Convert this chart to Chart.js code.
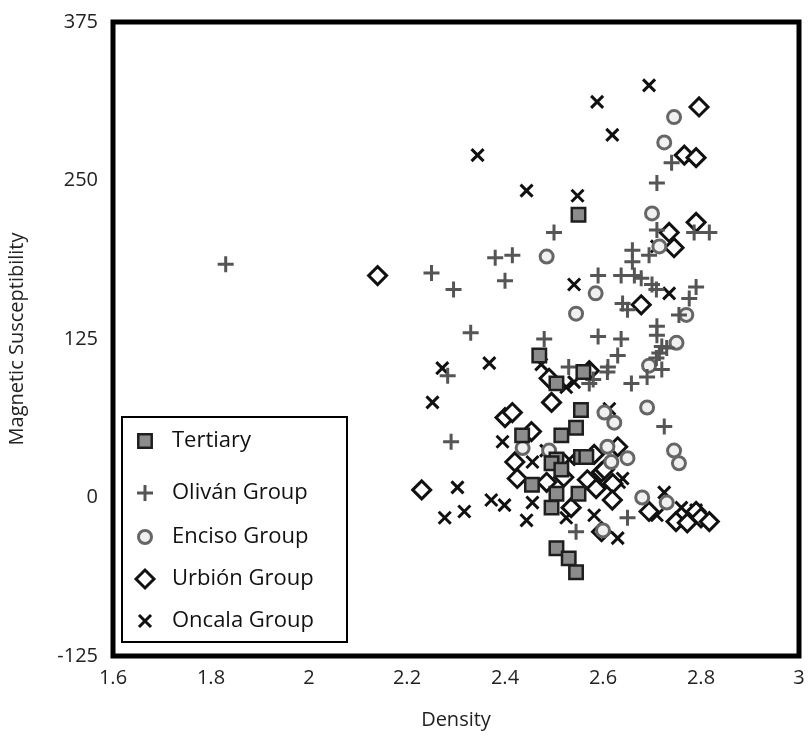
<!DOCTYPE html>
<html>
<head>
<meta charset="utf-8">
<script src="https://cdn.jsdelivr.net/npm/chart.js@4/dist/chart.umd.min.js"></script>
<style>
  html, body { margin: 0; padding: 0; background: #fff; }
  #wrap { width: 811px; height: 737px; }
</style>
</head>
<body>
<div id="wrap"><canvas id="chart" width="811" height="737"></canvas></div>
<script>
// tick labels of the two axes
const densityTicks = [1.6, 1.8, 2, 2.2, 2.4, 2.6, 2.8, 3];
const susTicks = [-125, 0, 125, 250, 375];

// series names (legend order)
const groupNames = ['Tertiary', 'Oliván Group', 'Enciso Group', 'Urbión Group', 'Oncala Group'];

// Tertiary
const tertiaryDensity = [2.55, 2.47, 2.56, 2.505, 2.555, 2.545, 2.515, 2.435, 2.555, 2.566, 2.505, 2.495, 2.515, 2.455, 2.505, 2.55, 2.495, 2.505, 2.53, 2.545];
const tertiarySus = [223, 112, 99, 90, 69, 55, 49, 49, 32, 32, 30, 27, 22, 10, 3, 3, -8, -40, -48, -59];

// Oliván Group
const olivanDensity = [1.83, 2.25, 2.295, 2.33, 2.283, 2.29, 2.38, 2.415, 2.40, 2.50, 2.48, 2.53, 2.59, 2.59, 2.637, 2.637, 2.64, 2.63, 2.61, 2.58,
  2.74, 2.71, 2.71, 2.786, 2.817, 2.66, 2.66, 2.694, 2.664, 2.678, 2.70, 2.709, 2.79, 2.776, 2.65, 2.755, 2.71, 2.71, 2.72, 2.715,
  2.73, 2.709, 2.72, 2.69, 2.658, 2.572, 2.609, 2.725, 2.545, 2.65];
const olivanSus = [184, 177, 164, 130, 96, 44, 189, 191, 171, 209, 125, 103, 175, 127, 175, 125, 153, 112, 103, 93,
  264, 248, 211, 209, 209, 195, 186, 191, 175, 173, 168, 164, 166, 157, 148, 144, 135, 128, 119, 114,
  118, 110, 101, 95, 90, 90, 99, 56, -27, -16];

// Enciso Group
const encisoDensity = [2.485, 2.745, 2.725, 2.70, 2.585, 2.545, 2.715, 2.77, 2.75, 2.694, 2.69, 2.745, 2.755, 2.603, 2.623, 2.436, 2.49, 2.609, 2.617, 2.65, 2.68, 2.73, 2.60];
const encisoSus = [190, 300, 280, 224, 161, 145, 198, 144, 122, 104, 71, 37, 27, 67, 59, 39, 37, 40, 28, 31, 0, -4, -26];

// Urbión Group
const urbionDensity = [2.14, 2.23, 2.796, 2.766, 2.79, 2.79, 2.735, 2.745, 2.678, 2.572, 2.49, 2.495, 2.40, 2.415, 2.454, 2.42, 2.425, 2.52,
  2.582, 2.597, 2.63, 2.62, 2.568, 2.485, 2.535, 2.586, 2.603, 2.619, 2.597, 2.694, 2.749, 2.772, 2.79, 2.80, 2.817];
const urbionSus = [175, 6, 308, 270, 268, 217, 209, 197, 152, 100, 94, 75, 63, 67, 52, 28, 15, 16,
  34, 20, 40, 11, 14, 12, -8, 7, 22, -2, -27, -11, -19, -20, -11, -16, -19];

// Oncala Group
const oncalaDensity = [2.588, 2.619, 2.344, 2.444, 2.548, 2.694, 2.541, 2.272, 2.368, 2.474, 2.541, 2.71, 2.735, 2.252, 2.395, 2.303, 2.525, 2.613,
  2.484, 2.456, 2.531, 2.64, 2.277, 2.317, 2.372, 2.399, 2.456, 2.444, 2.525, 2.582, 2.63, 2.633, 2.725, 2.71, 2.76, 2.79];
const oncalaSus = [312, 286, 270, 242, 238, 325, 168, 102, 106, 105, 91, 198, 161, 75, 44, 8, 87, 70,
  37, 28, 30, 15, -16, -11, -2, -6, -4, -18, -16, -14, -32, 12, 4, -14, -8, -10];

function toPoints(xs, ys) {
  return xs.map((x, i) => ({ x: x, y: ys[i] }));
}

const FONT = '"Open Sans", "DejaVu Sans", sans-serif';

const datasets = [
  { label: groupNames[0], data: toPoints(tertiaryDensity, tertiarySus), pointStyle: 'rect', pointRadius: 9.5,
    backgroundColor: '#8c8c8c', borderColor: '#1e1e1e', borderWidth: 2.5 },
  { label: groupNames[1], data: toPoints(olivanDensity, olivanSus), pointStyle: 'cross', pointRadius: 8,
    backgroundColor: '#555', borderColor: '#555', borderWidth: 3 },
  { label: groupNames[2], data: toPoints(encisoDensity, encisoSus), pointStyle: 'circle', pointRadius: 6.5,
    backgroundColor: '#f0f0f0', borderColor: '#666', borderWidth: 3 },
  { label: groupNames[3], data: toPoints(urbionDensity, urbionSus), pointStyle: 'rectRot', pointRadius: 9,
    backgroundColor: '#fff', borderColor: '#111', borderWidth: 3 },
  { label: groupNames[4], data: toPoints(oncalaDensity, oncalaSus), pointStyle: 'crossRot', pointRadius: 8.5,
    backgroundColor: '#111', borderColor: '#111', borderWidth: 3 }
];
datasets.forEach(d => { d.pointHoverRadius = d.pointRadius; });

// thick frame round the plot + legend box in the lower left
const framePlugin = {
  id: 'frame',
  afterDatasetsDraw(chart) {
    const { ctx, chartArea: a } = chart;
    ctx.save();
    ctx.strokeStyle = '#000';
    ctx.lineWidth = 5;
    ctx.strokeRect(a.left, a.top, a.right - a.left, a.bottom - a.top);

    // legend
    const bx = 122, by = 417, bw = 225, bh = 225;
    ctx.fillStyle = '#fff';
    ctx.fillRect(bx, by, bw, bh);
    ctx.lineWidth = 2;
    ctx.strokeStyle = '#000';
    ctx.strokeRect(bx, by, bw, bh);
    const rows = [441, 493, 537, 579, 621];
    chart.data.datasets.forEach((d, i) => {
      ctx.fillStyle = d.backgroundColor;
      ctx.strokeStyle = d.borderColor;
      ctx.lineWidth = d.borderWidth;
      Chart.helpers.drawPoint(ctx, {
        pointStyle: d.pointStyle, radius: d.pointRadius, rotation: 0, borderWidth: d.borderWidth
      }, 145, rows[i]);
      ctx.fillStyle = '#111';
      ctx.font = '22px ' + FONT;
      ctx.textAlign = 'left';
      ctx.textBaseline = 'middle';
      ctx.fillText(d.label, 172, rows[i]);
    });
    ctx.restore();
  }
};

new Chart(document.getElementById('chart'), {
  type: 'scatter',
  data: { datasets: datasets },
  options: {
    responsive: false,
    animation: false,
    layout: { padding: { top: 22, right: 11, left: 0, bottom: 0 } },
    plugins: { legend: { display: false }, tooltip: { enabled: false } },
    scales: {
      x: {
        type: 'linear', min: 1.6, max: 3,
        afterFit: s => { s.height = 81; s.paddingLeft = 0; s.paddingRight = 0; },
        afterBuildTicks: s => { s.ticks = densityTicks.map(v => ({ value: v })); },
        grid: { display: false, drawTicks: false },
        border: { display: false },
        ticks: { padding: 10, color: '#222', font: { family: FONT, size: 20 }, callback: v => String(v) },
        title: { display: true, text: 'Density', color: '#222', padding: { top: 0, bottom: 5 },
          font: { family: FONT, size: 20 } }
      },
      y: {
        type: 'linear', min: -125, max: 375,
        afterFit: s => { s.width = 113; s.paddingTop = 0; s.paddingBottom = 0; },
        afterBuildTicks: s => { s.ticks = susTicks.map(v => ({ value: v })); },
        grid: { display: false, drawTicks: false },
        border: { display: false },
        ticks: { padding: 15, color: '#222', font: { family: FONT, size: 20 }, callback: v => String(v) },
        title: { display: true, text: 'Magnetic Susceptibility', color: '#222', padding: { top: 5, bottom: 0 },
          font: { family: FONT, size: 20 } }
      }
    }
  },
  plugins: [framePlugin]
});
</script>
</body>
</html>
